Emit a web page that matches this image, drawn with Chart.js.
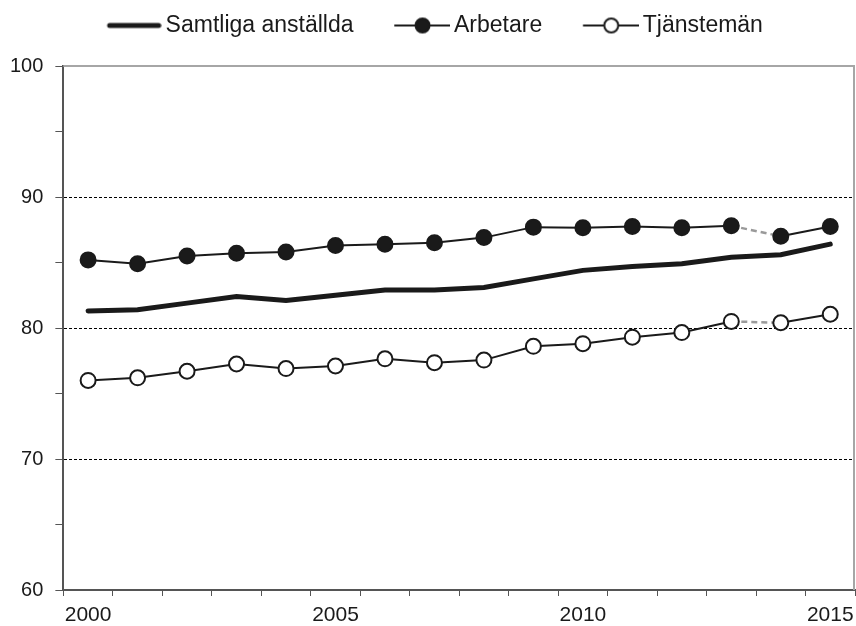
<!DOCTYPE html>
<html>
<head>
<meta charset="utf-8">
<script src="https://cdn.jsdelivr.net/npm/chart.js@4"></script>
<style>
  body { margin: 0; background: #fff; }
  #wrap { width: 856px; height: 626px; }
</style>
</head>
<body>
<div id="wrap"><canvas id="chart"></canvas></div>
<script>
const years = [2000, 2001, 2002, 2003, 2004, 2005, 2006, 2007, 2008, 2009, 2010, 2011, 2012, 2013, 2014, 2015];
const seriesNames = ["Samtliga anställda", "Arbetare", "Tjänstemän"];
const samtliga = [81.3, 81.4, 81.9, 82.4, 82.1, 82.5, 82.9, 82.9, 83.1, 83.75, 84.4, 84.7, 84.9, 85.4, 85.6, 86.4];
const arbetare = [85.2, 84.9, 85.5, 85.7, 85.8, 86.3, 86.4, 86.5, 86.9, 87.7, 87.65, 87.75, 87.65, 87.8, 87.0, 87.75];
const tjansteman = [76.0, 76.2, 76.7, 77.25, 76.9, 77.1, 77.65, 77.35, 77.55, 78.6, 78.8, 79.3, 79.65, 80.5, 80.4, 81.05];
const yTicks = [60, 70, 80, 90, 100];
const breakYear = 2013; // segment to next year is dashed

const ink = "#1a1a1a";
const font = "'Liberation Sans', Arial, sans-serif";
const legendSize = 23;
const boxW = 64;

// legend icons: line (+ marker), drawn shifted right so the line sits close to the text
const icon = (kind) => {
    const c = document.createElement("canvas");
    c.width = boxW + legendSize - 8;
    c.height = 20;
    const g = c.getContext("2d");
    const x0 = c.width - 55, x1 = c.width, y = 10;
    g.strokeStyle = ink;
    g.lineCap = "round";
    g.lineWidth = kind === "thick" ? 5 : 2;
    g.beginPath();
    g.moveTo(x0 + (kind === "thick" ? 3 : 0), y);
    g.lineTo(x1 - (kind === "thick" ? 3 : 0), y);
    g.stroke();
    if (kind !== "thick") {
        g.beginPath();
        g.arc((x0 + x1) / 2, y, 7, 0, Math.PI * 2);
        g.fillStyle = kind === "filled" ? ink : "#fff";
        g.fill();
        g.lineWidth = 2;
        g.stroke();
    }
    return c;
};
const icons = [icon("thick"), icon("filled"), icon("open")];

const dashed = (style, otherwise) => ctx => years[ctx.p0DataIndex] === breakYear ? style : otherwise;

const frame = {
    id: "frame",
    afterDraw(chart) {
        const { ctx, chartArea: a } = chart;
        ctx.save();
        ctx.strokeStyle = "#a6a6a6";
        ctx.lineWidth = 2;
        ctx.beginPath();
        ctx.moveTo(a.left, a.top);
        ctx.lineTo(a.right - 1, a.top);
        ctx.lineTo(a.right - 1, a.bottom);
        ctx.stroke();
        ctx.restore();
    }
};

const legendGap = {
    id: "legendGap",
    beforeInit(chart) {
        const fit = chart.legend.fit;
        chart.legend.fit = function () {
            fit.bind(chart.legend)();
            this.height += 19;
        };
    }
};

new Chart(document.getElementById("chart"), {
    type: "line",
    data: {
        labels: years,
        datasets: [{
            label: seriesNames[0],
            data: samtliga,
            borderColor: ink,
            borderWidth: 5,
            borderCapStyle: "round",
            pointRadius: 0
        }, {
            label: seriesNames[1],
            data: arbetare,
            borderColor: ink,
            borderWidth: 2,
            pointRadius: 7.5,
            pointBorderWidth: 2,
            pointBackgroundColor: ink,
            pointBorderColor: ink,
            segment: {
                borderColor: dashed("#9a9a9a", undefined),
                borderDash: dashed([6, 4], undefined),
                borderWidth: dashed(2.5, undefined)
            }
        }, {
            label: seriesNames[2],
            data: tjansteman,
            borderColor: ink,
            borderWidth: 2,
            pointRadius: 7.5,
            pointBorderWidth: 2,
            pointBackgroundColor: "#fff",
            pointBorderColor: ink,
            segment: {
                borderColor: dashed("#9a9a9a", undefined),
                borderDash: dashed([6, 4], undefined),
                borderWidth: dashed(2.5, undefined)
            }
        }]
    },
    options: {
        responsive: true,
        maintainAspectRatio: false,
        animation: false,
        layout: { autoPadding: false, padding: { top: -11, left: -2, right: 1, bottom: -9 } },
        plugins: {
            tooltip: { enabled: false },
            legend: {
                position: "top",
                labels: {
                    color: ink,
                    font: { family: font, size: legendSize },
                    usePointStyle: true,
                    pointStyleWidth: boxW,
                    padding: 25,
                    generateLabels: chart => Chart.defaults.plugins.legend.labels.generateLabels(chart)
                        .map((item, i) => ({ ...item, pointStyle: icons[i] }))
                }
            }
        },
        scales: {
            x: {
                type: "category",
                offset: true,
                afterFit: s => { s.paddingLeft = 0; s.paddingRight = 0; },
                grid: {
                    offset: true,
                    drawOnChartArea: false,
                    tickLength: 6,
                    tickColor: "#555"
                },
                border: { color: "#555", width: 2 },
                ticks: {
                    autoSkip: false,
                    maxRotation: 0,
                    padding: 9,
                    color: ink,
                    font: { family: font, size: 21, lineHeight: 1 },
                    callback: (v, i) => years[i] % 5 === 0 ? String(years[i]) : ""
                }
            },
            y: {
                min: 60,
                max: 100,
                grid: {
                    color: ctx => yTicks.includes(ctx.tick.value) && ctx.tick.value > 60 && ctx.tick.value < 100 ? "#000" : "transparent",
                    lineWidth: 1,
                    tickLength: 8,
                    tickColor: "#555",
                    tickBorderDash: []
                },
                border: { color: "#555", width: 2, dash: [3, 2] },
                ticks: {
                    stepSize: 5,
                    padding: 12,
                    color: ink,
                    font: { family: font, size: 20 },
                    callback: v => yTicks.includes(v) ? String(v) : ""
                }
            }
        }
    },
    plugins: [legendGap, frame]
});
</script>
</body>
</html>
